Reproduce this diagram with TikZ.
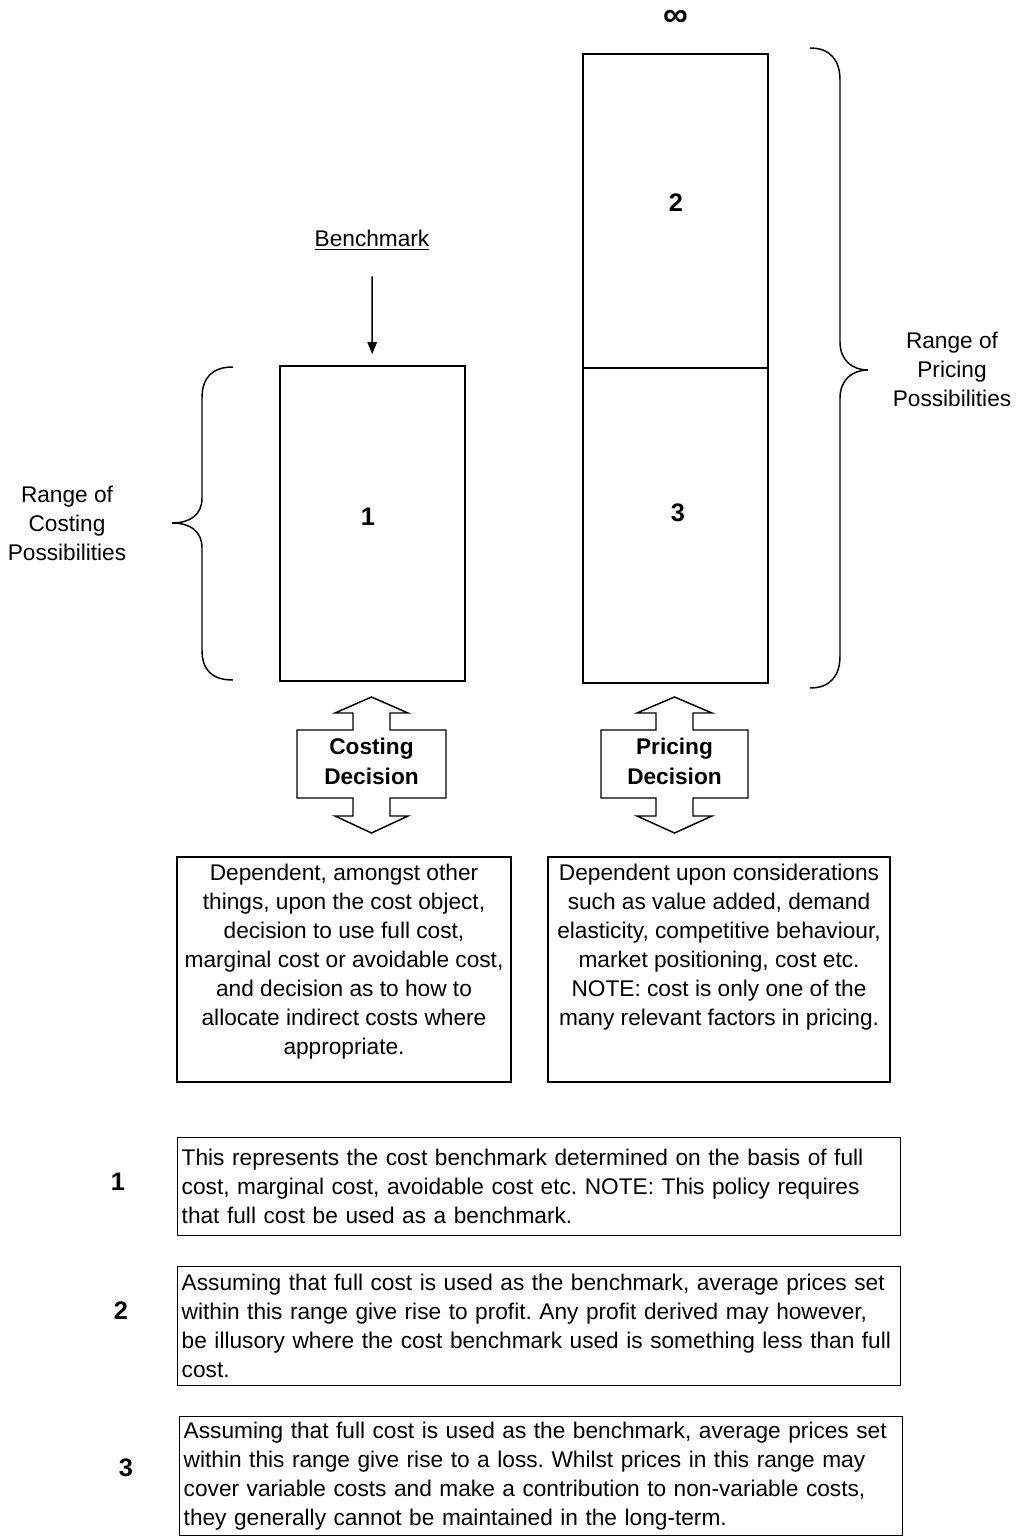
\documentclass[tikz,border=0pt]{standalone}
\usepackage{fontspec}
\setmainfont{Liberation Sans}
\usetikzlibrary{arrows.meta}
\frenchspacing

\tikzset{every picture/.style={line width=0.75pt}}
\tikzset{
	txt/.style={font=\fontsize{17}{21.75}\selectfont, inner sep=0.75pt, align=center},
	numtxt/.style={font=\bfseries\fontsize{19}{22}\selectfont, inner sep=0.75pt},
	dectxt/.style={font=\bfseries\fontsize{17}{22.5}\selectfont, inner sep=0.75pt, align=center},
	bigbox/.style={draw, line width=1.7pt, minimum width=138.75pt},
	descbox/.style={draw, line width=1.1pt, minimum height=168.75pt},
	notebox/.style={draw, line width=1.1pt, anchor=north west, text width=536pt, inner sep=3pt, align=left, font=\fontsize{17}{21.75}\selectfont},
}

\begin{document}
\begin{tikzpicture}[x=0.75pt,y=0.75pt,yscale=-1,xscale=1]
		\useasboundingbox (0,0) rectangle (1017,1537);
		
		%Shape: Rectangle [costing range]
		\node[bigbox, minimum height=236.25pt] (costbox) at (372.5,523.5) {};
		%Shape: Rectangle [pricing range, profit part]
		\node[bigbox, minimum height=235.5pt] (profitbox) at (675.5,211) {};
		%Shape: Rectangle [pricing range, loss part]
		\node[bigbox, minimum height=236.25pt] (lossbox) at (675.5,525.5) {};
		
		% Text Node
		\node[numtxt] (num1) at (368,517) {1};
		% Text Node
		\node[numtxt] (num2) at (676,203) {2};
		% Text Node
		\node[numtxt] (num3) at (678,513) {3};
		% Text Node
		\node[font=\bfseries\fontsize{26}{26}\selectfont, inner sep=0pt] (infty) at (676,18) {∞};
		
		% Text Node
		\node[txt] (bench) at (372,240) {\underline{Benchmark}};
		%Straight Lines [benchmark arrow]
		\draw[-{Triangle[length=9pt,width=7pt]}, line width=1.1pt, shorten <=19pt, shorten >=8pt] (bench) -- (costbox);
		
		%Shape: Brace [costing]
		\draw[line width=1.1pt] (233,367) .. controls (212,367) and (202,378) .. (202,398) -- (202,498) .. controls (202,515) and (190,523) .. (172,523) .. controls (190,523) and (202,531) .. (202,548) -- (202,650) .. controls (202,670) and (212,680) .. (233,680) ;
		%Shape: Brace [pricing]
		\draw[line width=1.1pt] (810,48) .. controls (830,48) and (840,60) .. (840,80) -- (840,342) .. controls (840,360) and (852,370) .. (868,370) .. controls (852,370) and (840,380) .. (840,398) -- (840,656) .. controls (840,676) and (830,688) .. (810,688) ;
		
		% Text Node
		\node[txt] (costrange) at (67,523) {Range of\\Costing\\Possibilities};
		% Text Node
		\node[txt] (pricerange) at (952,369) {Range of\\Pricing\\Possibilities};
		
		%Shape: Up Down Arrow [costing decision]
		\draw[line width=1.1pt] (371.5,697) -- (408,713) -- (390,713) -- (390,730) -- (446,730) -- (446,798) -- (390,798) -- (390,816) -- (408,816) -- (371.5,833) -- (335,816) -- (353,816) -- (353,798) -- (297,798) -- (297,730) -- (353,730) -- (353,713) -- (335,713) -- cycle ;
		%Shape: Up Down Arrow [pricing decision]
		\draw[line width=1.1pt] (674.5,697) -- (712,713) -- (693,713) -- (693,730) -- (748,730) -- (748,798) -- (693,798) -- (693,816) -- (712,816) -- (674.5,833) -- (637,816) -- (656,816) -- (656,798) -- (601,798) -- (601,730) -- (656,730) -- (656,713) -- (637,713) -- cycle ;
		% Text Node
		\node[dectxt] (costdec) at (371.5,761) {Costing\\Decision};
		% Text Node
		\node[dectxt] (pricedec) at (674.5,761) {Pricing\\Decision};
		
		%Shape: Rectangle [costing notes]
		\node[descbox, minimum width=250.5pt] (costdesc) at (344,969.5) {};
		%Shape: Rectangle [pricing notes]
		\node[descbox, minimum width=256.5pt] (pricedesc) at (719,969.5) {};
		% Text Node
		\node[txt, anchor=north] (costtext) at (344,863) {Dependent, amongst other\\things, upon the cost object,\\decision to use full cost,\\marginal cost or avoidable cost,\\and decision as to how to\\allocate indirect costs where\\appropriate.};
		% Text Node
		\node[txt, anchor=north] (pricetext) at (719,863) {Dependent upon considerations\\such as value added, demand\\elasticity, competitive behaviour,\\market positioning, cost etc.\\NOTE: cost is only one of the\\many relevant factors in pricing.};
		
		% Text Node
		\node[notebox, minimum height=73.5pt] (note1) at (177,1137) {This represents the cost benchmark determined on the basis of full\\cost, marginal cost, avoidable cost etc. NOTE: This policy requires\\that full cost be used as a benchmark.};
		% Text Node
		\node[notebox, minimum height=89.25pt] (note2) at (177,1266) {Assuming that full cost is used as the benchmark, average prices set\\within this range give rise to profit. Any profit derived may however,\\be illusory where the cost benchmark used is something less than full\\cost.};
		% Text Node
		\node[notebox, minimum height=89.25pt] (note3) at (179,1416) {Assuming that full cost is used as the benchmark, average prices set\\within this range give rise to a loss. Whilst prices in this range may\\cover variable costs and make a contribution to non-variable costs,\\they generally cannot be maintained in the long-term.};
		
		% Text Node
		\node[numtxt] (lab1) at (118,1182) {1};
		% Text Node
		\node[numtxt] (lab2) at (121,1311) {2};
		% Text Node
		\node[numtxt] (lab3) at (126,1468) {3};
		
	\end{tikzpicture}
\end{document}
